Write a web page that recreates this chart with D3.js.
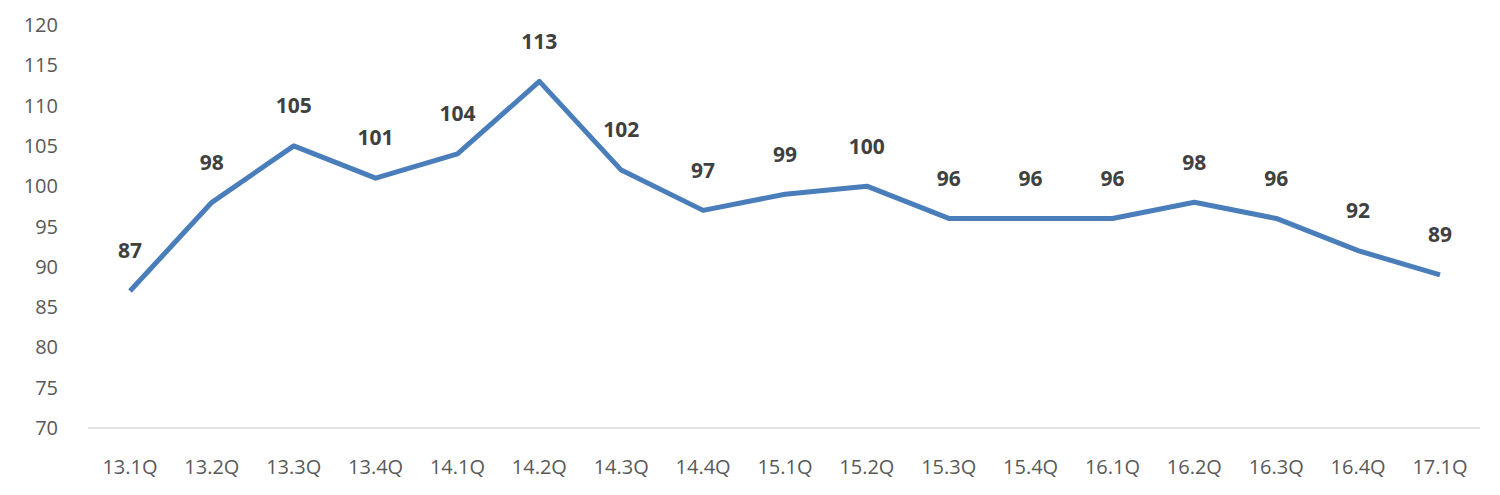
<!DOCTYPE html>
<html><head><meta charset="utf-8">
<script src="https://cdn.jsdelivr.net/npm/d3@7"></script>
<style>body{margin:0;background:#fff}text{font-family:"Open Sans","Noto Sans",sans-serif}</style>
</head><body><svg id="c" width="1500" height="495"></svg>
<script>
const categories=["13.1Q","13.2Q","13.3Q","13.4Q","14.1Q","14.2Q","14.3Q","14.4Q","15.1Q","15.2Q","15.3Q","15.4Q","16.1Q","16.2Q","16.3Q","16.4Q","17.1Q"];
const values=[87,98,105,101,104,113,102,97,99,100,96,96,96,98,96,92,89];
const yTicks=[70,75,80,85,90,95,100,105,110,115,120];
const svg=d3.select("#c");
const x=d3.scalePoint().domain(categories).range([130,1440]);
const y=d3.scaleLinear().domain([70,120]).range([428,25]);
svg.append("line").attr("x1",88).attr("x2",1480).attr("y1",y(70)).attr("y2",y(70)).attr("stroke","#d9d9d9").attr("stroke-width",1.5);
svg.selectAll(".yt").data(yTicks).enter().append("text").attr("x",58).attr("y",d=>y(d)).attr("dy","0.35em").attr("text-anchor","end").attr("font-size",20).attr("fill","#595959").text(d=>d);
svg.selectAll(".xt").data(categories).enter().append("text").attr("x",d=>x(d)).attr("y",467).attr("dy","0.35em").attr("text-anchor","middle").attr("font-size",20).attr("fill","#595959").text(d=>d);
svg.append("path").datum(values).attr("fill","none").attr("stroke","#4a7ebb").attr("stroke-width",5).attr("stroke-linejoin","round")
 .attr("d",d3.line().x((d,i)=>x(categories[i])).y(d=>y(d)));
svg.selectAll(".dl").data(values).enter().append("text").attr("x",(d,i)=>x(categories[i])).attr("y",d=>y(d)-40).attr("dy","0.35em").attr("text-anchor","middle").attr("font-size",21).attr("font-weight","bold").attr("fill","#404040").text(d=>d);
</script></body></html>
